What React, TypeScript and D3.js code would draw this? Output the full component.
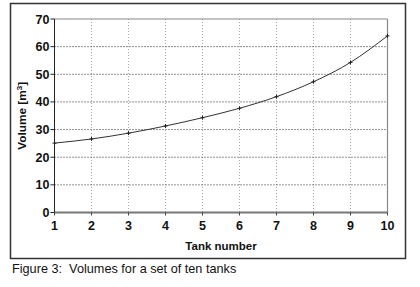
import React from "react";
import * as d3 from "d3";

const tanks = [1, 2, 3, 4, 5, 6, 7, 8, 9, 10];
const volumes = [25.1, 26.6, 28.7, 31.3, 34.3, 37.7, 41.9, 47.3, 54.3, 63.9];
const yTicks = [0, 10, 20, 30, 40, 50, 60, 70];
const xTicks = [1, 2, 3, 4, 5, 6, 7, 8, 9, 10];
const xLabel = "Tank number";
const caption = "Figure 3:  Volumes for a set of ten tanks";

const W = 420;
const H = 287;
const L = 54.5, R = 387.5, T = 19, B = 212.5;

export default function App() {
  const x = d3.scaleLinear().domain([1, 10]).range([L, R]);
  const y = d3.scaleLinear().domain([0, 70]).range([B, T]);
  const pts = tanks.map((t, i) => [x(t), y(volumes[i])] as [number, number]);
  const line = d3.line().curve(d3.curveMonotoneX)(pts) || "";
  const font = "Arial, 'Liberation Sans', Helvetica, sans-serif";
  return (
    <svg
      width={W}
      height={H}
      style={{ position: "absolute", left: 0, top: 0, display: "block", background: "#fff" }}
      fontFamily={font}
    >
      <rect x={0} y={0} width={W} height={H} fill="#fff" />
      {/* outer frame */}
      <rect x={10.5} y={3.5} width={395} height={255} fill="none" stroke="#333" strokeWidth={1.5} />
      {/* vertical grid */}
      {xTicks.slice(1, -1).map((t) => (
        <line key={"vg" + t} x1={x(t)} x2={x(t)} y1={T} y2={B} stroke="#aaa" strokeWidth={1} strokeDasharray="1,2" />
      ))}
      {/* horizontal grid */}
      {yTicks.slice(1, -1).map((t) => (
        <line key={"hg" + t} x1={L} x2={R} y1={y(t)} y2={y(t)} stroke="#222" strokeWidth={1} strokeDasharray="1,2" />
      ))}
      {/* plot border top/right */}
      <line x1={L} x2={R} y1={T} y2={T} stroke="#888" strokeWidth={1.2} />
      <line x1={R} x2={R} y1={T} y2={B} stroke="#888" strokeWidth={1.2} />
      {/* bottom axis */}
      <line x1={L} x2={R} y1={B} y2={B} stroke="#777" strokeWidth={1.8} />
      {/* left axis */}
      <line x1={L} x2={L} y1={T} y2={B} stroke="#222" strokeWidth={1} />
      {/* y ticks */}
      {yTicks.map((t) => (
        <g key={"yt" + t}>
          <line x1={L - 4} x2={L} y1={y(t)} y2={y(t)} stroke="#222" strokeWidth={1} />
          <text x={L - 5} y={y(t)} dy="0.36em" textAnchor="end" fontSize={12.5} fontWeight="bold" fill="#111">
            {t}
          </text>
        </g>
      ))}
      {/* x ticks */}
      {xTicks.map((t) => (
        <g key={"xt" + t}>
          <line x1={x(t)} x2={x(t)} y1={B} y2={B + 3} stroke="#444" strokeWidth={1} />
          <text x={x(t)} y={229.5} textAnchor="middle" fontSize={12.5} fontWeight="bold" fill="#111">
            {t}
          </text>
        </g>
      ))}
      {/* data line */}
      <path d={line} fill="none" stroke="#333" strokeWidth={1} />
      {pts.map(([px, py], i) => (
        <g key={"m" + i} stroke="#222" strokeWidth={1}>
          <line x1={px - 2} x2={px + 2} y1={py} y2={py} />
          <line x1={px} x2={px} y1={py - 2} y2={py + 2} />
        </g>
      ))}
      {/* axis titles */}
      <text x={(L + R) / 2} y={250} textAnchor="middle" fontSize={11.5} fontWeight="bold" fill="#111">
        {xLabel}
      </text>
      <text
        transform={`translate(25.5, ${(T + B) / 2}) rotate(-90)`}
        textAnchor="middle"
        fontSize={11.8}
        fontWeight="bold"
        fill="#111"
      >
        Volume [m<tspan fontSize={8} dy="-4">3</tspan><tspan dy="4">]</tspan>
      </text>
      {/* caption */}
      <text x={12} y={272.5} fontSize={12.7} fill="#111" style={{ whiteSpace: "pre" }}>
        {caption}
      </text>
    </svg>
  );
}
